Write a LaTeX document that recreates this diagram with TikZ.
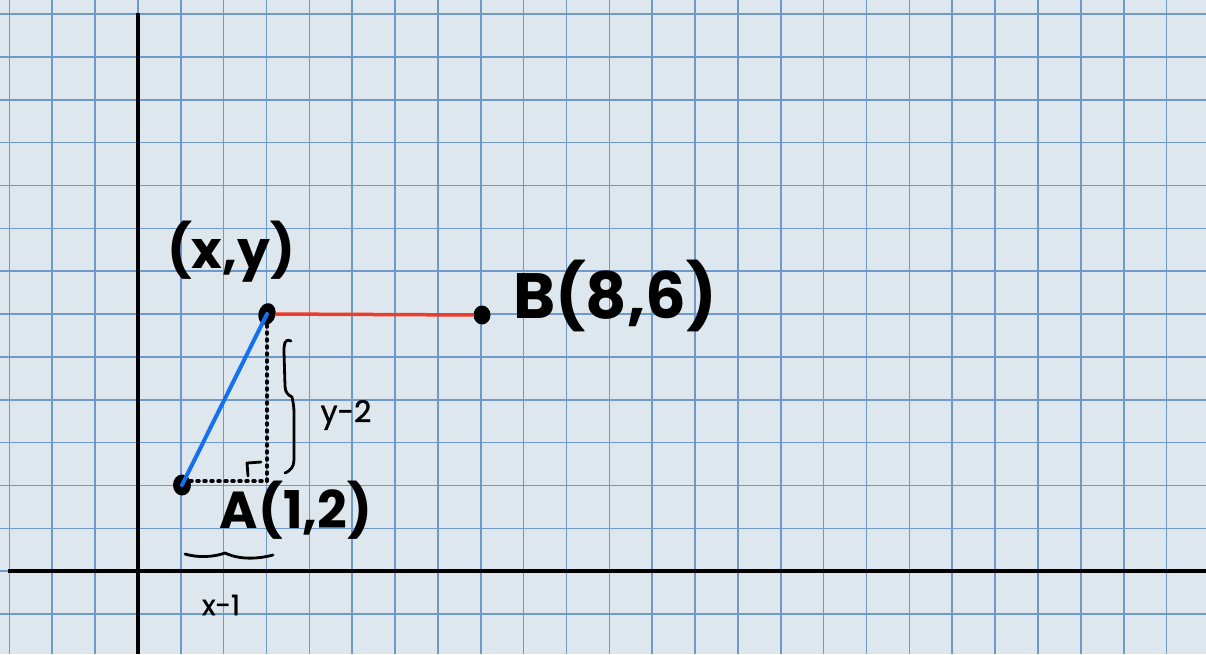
\documentclass[tikz,border=0pt]{standalone}
\usepackage{fontspec}
\setmainfont{Poppins}
\newfontfamily\penfont[FakeBold=1.2]{Poppins}
\usetikzlibrary{calc,shapes.geometric}
\definecolor{paper}{HTML}{DDE7ED}
\definecolor{gridblue}{HTML}{6E9ACB}
\definecolor{segblue}{HTML}{1370F0}
\definecolor{segred}{HTML}{EE3B2B}
\tikzset{
  gridline/.style={draw=gridblue, line width=1.6pt},
  axisline/.style={draw=black, line width=3.6pt},
  ptdot/.style={ellipse, fill=black, inner sep=0pt, minimum width=18pt, minimum height=21pt},
  dotline/.style={draw=black, line width=3.5pt, line cap=round, dash pattern=on 2pt off 5pt},
  penline/.style={draw=black, line width=2.8pt, line cap=round, line join=round},
  biglabel/.style={inner sep=0pt, font=\bfseries\fontsize{52}{60}\selectfont},
  smalllabel/.style={inner sep=0pt, font=\penfont\fontsize{30}{36}\selectfont},
}
\begin{document}
\begin{tikzpicture}[x=1pt,y=-1pt]
\useasboundingbox (0,0) rectangle (1206,654);
\fill[paper] (0,0) rectangle (1206,654);
% grid
\foreach \xx in {9.3,52.2,95.0,137.9,180.7,223.6,266.5,309.3,352.2,395.0,437.9,480.8,523.6,566.5,609.3,652.2,695.1,737.9,780.8,823.6,866.5,909.4,952.2,995.1,1037.9,1080.8,1123.7,1166.5}
  \draw[gridline] (\xx,0) -- (\xx,654);
\foreach \yy in {14.0,56.9,99.7,142.6,185.4,228.3,271.2,314.0,356.9,399.7,442.6,485.5,528.3,571.2,614.0}
  \draw[gridline] (0,\yy) -- (1206,\yy);
% axes
\coordinate (ytop) at (138,13);
\coordinate (ybot) at (138,654);
\coordinate (xl) at (8,571);
\coordinate (xr) at (1206,571);
\draw[axisline] (ytop) -- (ybot);
\draw[axisline] (xl) -- (xr);
% points
\coordinate (C) at (267,481);
% dotted legs
\draw[dotline] (190,481) -- (C);
\draw[dotline] (267,325) -- (C);
\node[ptdot] (A) at (182,485) {};
\node[ptdot, minimum width=17pt, minimum height=22pt, rotate=-15] (P) at (267,314) {};
\node[ptdot, minimum width=17pt, minimum height=19pt] (B) at (482,315) {};
% right angle mark
\coordinate (r1) at (248,476);
\coordinate (r2) at (247,463);
\coordinate (r3) at (261,462);
\draw[penline] (r1) -- (r2) -- (r3);
% segments
\draw[segblue, line width=4pt, line cap=round] (A.center) -- (P.center);
\draw[segred, line width=3.5pt] (P) -- (B);
% brace for y-2
\coordinate (bt) at (291,341);
\draw[penline] (bt) .. controls (284,338) and (284,345) .. (284,352) -- (285,386) .. controls (285,392) and (288,395) .. (292,397) .. controls (293,402) and (294,406) .. (294,413) -- (294,460) .. controls (294,467) and (290,471) .. (285,473);
% brace for x-1
\coordinate (bl) at (185,554);
\draw[penline] (bl) .. controls (198,558) and (214,557) .. (225,553) .. controls (240,560) and (258,559) .. (273,555);
% labels
\node[biglabel] (labP) at (231,252) {(x,y)};
\node[biglabel] (labA) at (296,510) {A(1,2)};
\node[biglabel, font=\bfseries\fontsize{64}{72}\selectfont] (labB) at (615,296) {B(8,6)};
\node[smalllabel] (labY) at (346,415) {y-2};
\node[smalllabel, font=\penfont\fontsize{28}{34}\selectfont] (labX) at (221,605) {x-1};
\end{tikzpicture}
\end{document}
